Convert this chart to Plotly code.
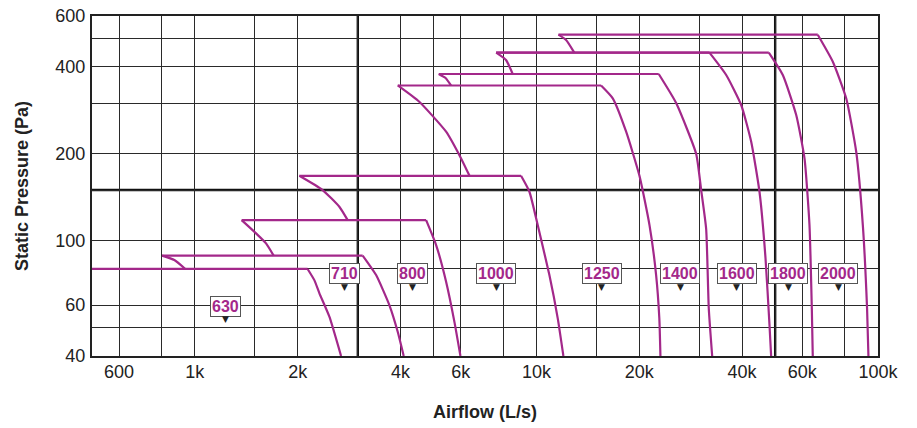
import math
import plotly.graph_objects as go

# ---------------- data ----------------
fan_sizes = ['630', '710', '800', '1000', '1250', '1400', '1600', '1800', '2000']

# envelope paths: stall hook -> max-pressure line -> max-flow drop (airflow L/s, pressure Pa)
q_630 = [500, 2139, 2238, 2316, 2477, 2680]
p_630 = [80, 80, 73.2, 65.9, 54.7, 40]

q_710 = [938, 871, 802, 3100, 3394, 3711, 3926, 4088]
p_710 = [80, 85.9, 89, 89, 76.2, 60, 48.5, 40]

q_800 = [1701, 1616, 1511, 1371, 4755, 5086, 5440, 5754, 5992]
p_800 = [89, 98.1, 106.2, 118, 118, 96.8, 72.3, 52.5, 40]

q_1000 = [2802, 2649, 2366, 2023, 9016, 9540, 10088, 10914, 11546, 11995]
p_1000 = [118, 131.3, 150, 168, 168, 148, 113.5, 76.2, 54, 40]

q_1250 = [6370, 6018, 5440, 4540, 3927, 15466, 16730, 18310, 20030, 21430, 22410, 22900, 23070]
p_1250 = [168, 193, 238.7, 303, 345, 345, 311.5, 238.7, 168, 113.5, 76.2, 54, 40]

q_1400 = [5624, 5420, 5177, 22810, 25650, 29360, 30360, 31400, 31960, 32700]
p_1400 = [345, 366, 378, 378, 300, 200, 150, 110, 58.4, 40]

q_1600 = [8522, 8147, 7623, 32110, 35940, 39760, 42540, 44980, 46850, 48120, 48660]
p_1600 = [378, 422.7, 448, 448, 375, 295.3, 220.4, 148, 87.1, 51.2, 40]

q_1800 = [7623, 47900, 52640, 57620, 60930, 63010, 64010, 64420]
p_1800 = [448, 448, 375, 272.6, 193, 113.5, 58.4, 40]

q_2000 = [12910, 12215, 11600, 66630, 73750, 80700, 86340, 90280, 92900, 93760]
p_2000 = [448, 495.6, 517, 517, 417, 311.5, 203.5, 113.5, 58.4, 40]

# index of the top-left corner and of the top-right corner in each path
start_idx = [0, 2, 3, 3, 4, 2, 2, 0, 2]
corner_idx = [1, 3, 4, 4, 5, 3, 3, 1, 3]

# label positions
label_q = [1226, 2735, 4343, 7622, 15520, 26410, 38530, 54590, 76480]
label_p = [59.5, 77, 77, 77, 77, 77, 77, 77, 77]

# axes
x_grid = [500, 600, 800, 1000, 1500, 2000, 3000, 4000, 5000, 6000, 8000, 10000,
          15000, 20000, 30000, 40000, 50000, 60000, 80000, 100000]
x_text = ['', '600', '', '1k', '', '2k', '', '4k', '', '6k', '', '10k',
          '', '20k', '', '40k', '', '60k', '', '100k']
y_grid = [40, 50, 60, 80, 100, 150, 200, 300, 400, 500, 600]
y_text = ['40', '', '60', '', '100', '', '200', '', '400', '', '600']
x_heavy = [3000, 50000]
y_heavy = [150]

# ---------------- style ----------------
MAG = '#a3288a'
GRID = '#2a2a2a'
FONT = 'Liberation Sans, Arial, sans-serif'

paths_q = [q_630, q_710, q_800, q_1000, q_1250, q_1400, q_1600, q_1800, q_2000]
paths_p = [p_630, p_710, p_800, p_1000, p_1250, p_1400, p_1600, p_1800, p_2000]

fig = go.Figure()
for name, q, p, i1, i2 in zip(fan_sizes, paths_q, paths_p, start_idx, corner_idx):
    segs = []
    if i1 > 0:
        segs.append((q[:i1 + 1], p[:i1 + 1]))
    segs.append((q[i1:i2 + 1], p[i1:i2 + 1]))
    segs.append((q[i2:], p[i2:]))
    for sq, sp in segs:
        fig.add_trace(go.Scatter(
            x=sq, y=sp, mode='lines', name=name, showlegend=False,
            line=dict(color=MAG, width=2.2, shape='spline', smoothing=0.5),
            hoverinfo='skip'))

for v in x_heavy:
    fig.add_shape(type='line', xref='x', yref='paper', x0=v, x1=v, y0=0, y1=1,
                  line=dict(color='#111', width=2.4), layer='below')
for v in y_heavy:
    fig.add_shape(type='line', xref='paper', yref='y', x0=0, x1=1, y0=v, y1=v,
                  line=dict(color='#111', width=2.4), layer='below')

for name, lq, lp in zip(fan_sizes, label_q, label_p):
    fig.add_annotation(x=math.log10(lq), y=math.log10(lp), xref='x', yref='y',
                       text='<b>%s</b>' % name,
                       showarrow=False, font=dict(family=FONT, size=16, color=MAG),
                       bgcolor='white', bordercolor='#555', borderwidth=1, borderpad=1)
    fig.add_annotation(x=math.log10(lq), y=math.log10(lp), xref='x', yref='y',
                       text='▼', yshift=-13,
                       showarrow=False, font=dict(family='DejaVu Sans', size=9, color='#222'))

fig.add_annotation(x=0.5, y=-0.165, xref='paper', yref='paper', text='<b>Airflow (L/s)</b>',
                   showarrow=False, yanchor='middle',
                   font=dict(family=FONT, size=18, color='#222'))
fig.add_annotation(x=-0.089, y=0.5, xref='paper', yref='paper', text='<b>Static Pressure (Pa)</b>',
                   showarrow=False, textangle=-90, xanchor='center', yanchor='middle',
                   font=dict(family=FONT, size=18, color='#222'))

# the page adds an 8 px body margin, so the figure is sized and offset for it
fig.update_layout(
    width=909, height=420,
    margin=dict(l=84, r=39, t=8, b=72, autoexpand=False),
    plot_bgcolor='white', paper_bgcolor='white',
    font=dict(family=FONT, size=18, color='#222'),
    showlegend=False,
)
fig.update_xaxes(type='log', range=[2.69897, 5], tickvals=x_grid, ticktext=x_text,
                 showgrid=True, gridcolor=GRID, gridwidth=1.3, zeroline=False,
                 showline=True, mirror=True, linecolor='#222', linewidth=2,
                 ticks='', ticklabelstandoff=-2, automargin=False,
                 ticklabeloverflow='allow',
                 tickfont=dict(size=18, color='#222'))
fig.update_yaxes(type='log', range=[1.60206, 2.778151], tickvals=y_grid, ticktext=y_text,
                 showgrid=True, gridcolor=GRID, gridwidth=1.3, zeroline=False,
                 showline=True, mirror=True, linecolor='#222', linewidth=2,
                 ticks='', ticklabelstandoff=1, automargin=False,
                 ticklabeloverflow='allow',
                 tickfont=dict(size=18, color='#222'))

fig.write_html('out.html')
